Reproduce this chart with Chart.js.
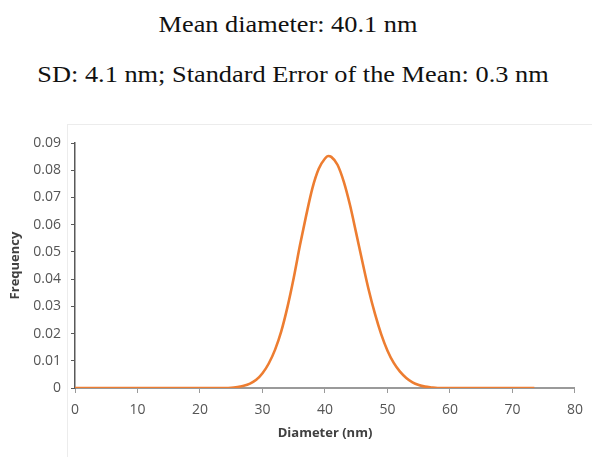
<!DOCTYPE html>
<html>
<head>
<meta charset="utf-8">
<script src="https://cdn.jsdelivr.net/npm/chart.js@4.4.1/dist/chart.umd.min.js"></script>
<style>
  body { margin: 0; background: #fff; }
  #wrap { position: relative; width: 592px; height: 457px; overflow: hidden; }
  .head {
    position: absolute; width: 592px; text-align: center;
    font-family: "Liberation Serif", "Times New Roman", serif;
    font-size: 23px; line-height: 23px; color: #111;
    transform: scaleX(1.145); transform-origin: center;
    white-space: nowrap;
  }
  #frame {
    position: absolute; left: 67px; top: 124px; width: 540px; height: 340px;
    border-left: 1px solid #ececec; border-top: 1px solid #ececec;
  }
  #box { position: absolute; left: 0; top: 0; width: 592px; height: 457px; }
</style>
</head>
<body>
<div id="wrap">
  <div class="head" style="left:-8px; top:13px;">Mean diameter: 40.1 nm</div>
  <div class="head" style="left:-3px; top:63px;">SD: 4.1 nm; Standard Error of the Mean: 0.3 nm</div>
  <div id="frame"></div>
  <div id="box"><canvas id="chart"></canvas></div>
</div>
<script>
// values
const diameters = [0, 5, 10, 15, 20, 24, 25, 26, 27, 28, 29, 30, 31, 32, 33, 34, 35, 36, 37, 38, 39, 40, 40.5,
  41, 42, 43, 44, 45, 46, 47, 48, 49, 50, 51, 52, 53, 54, 55, 56, 57, 58, 60, 65, 70, 73.5];
const frequencies = [0, 0, 0, 0, 0, 0, 0.0001, 0.0004, 0.0008, 0.0016, 0.003, 0.0054, 0.009, 0.014, 0.0208, 0.0298,
  0.0405, 0.0525, 0.0635, 0.0735, 0.0805, 0.0843, 0.0852,
  0.0849, 0.082, 0.0758, 0.0672, 0.0568, 0.0462, 0.036, 0.0272, 0.0197, 0.0137, 0.0092, 0.006, 0.0037, 0.0021,
  0.0011, 0.0005, 0.0002, 0, 0, 0, 0, 0];
const xTitle = 'Diameter (nm)';
const yTitle = 'Frequency';

const points = diameters.map((d, i) => ({ x: d, y: frequencies[i] }));

const tickFont = { family: '"Open Sans", Lato, sans-serif', size: 14 };
const titleFont = { family: '"Open Sans", Lato, sans-serif', size: 13, weight: 'bold' };

new Chart(document.getElementById('chart'), {
  type: 'line',
  data: {
    datasets: [{
      data: points,
      borderColor: '#ed7d31',
      borderWidth: 2.6,
      pointRadius: 0,
      fill: false,
      cubicInterpolationMode: 'monotone'
    }]
  },
  options: {
    responsive: true,
    maintainAspectRatio: false,
    animation: false,
    layout: { padding: { left: 0, top: 143, right: 17, bottom: 0 } },
    plugins: { legend: { display: false }, tooltip: { enabled: false } },
    scales: {
      x: {
        type: 'linear',
        min: 0, max: 80,
        ticks: { stepSize: 10, color: '#555', font: tickFont, padding: 9, maxRotation: 0 },
        grid: { drawOnChartArea: false, drawTicks: true, tickLength: 5, color: '#9a9a9a' },
        border: { color: '#9a9a9a', width: 2 },
        title: { display: true, text: xTitle, color: '#404040', font: titleFont, padding: { top: 0, bottom: 16 } },
        afterFit: (s) => { s.height = 69; }
      },
      y: {
        min: 0, max: 0.09,
        ticks: {
          stepSize: 0.01, color: '#555', font: tickFont, padding: 10,
          callback: (v) => (Math.abs(v) < 1e-9 ? '0' : v.toFixed(2))
        },
        grid: { drawOnChartArea: false, drawTicks: true, tickLength: 4, color: '#595959' },
        border: { color: '#595959', width: 1.5 },
        title: { display: true, text: yTitle, color: '#404040', font: titleFont, padding: { top: 7, bottom: 0 } },
        afterFit: (s) => { s.width = 75; }
      }
    }
  }
});
</script>
</body>
</html>
